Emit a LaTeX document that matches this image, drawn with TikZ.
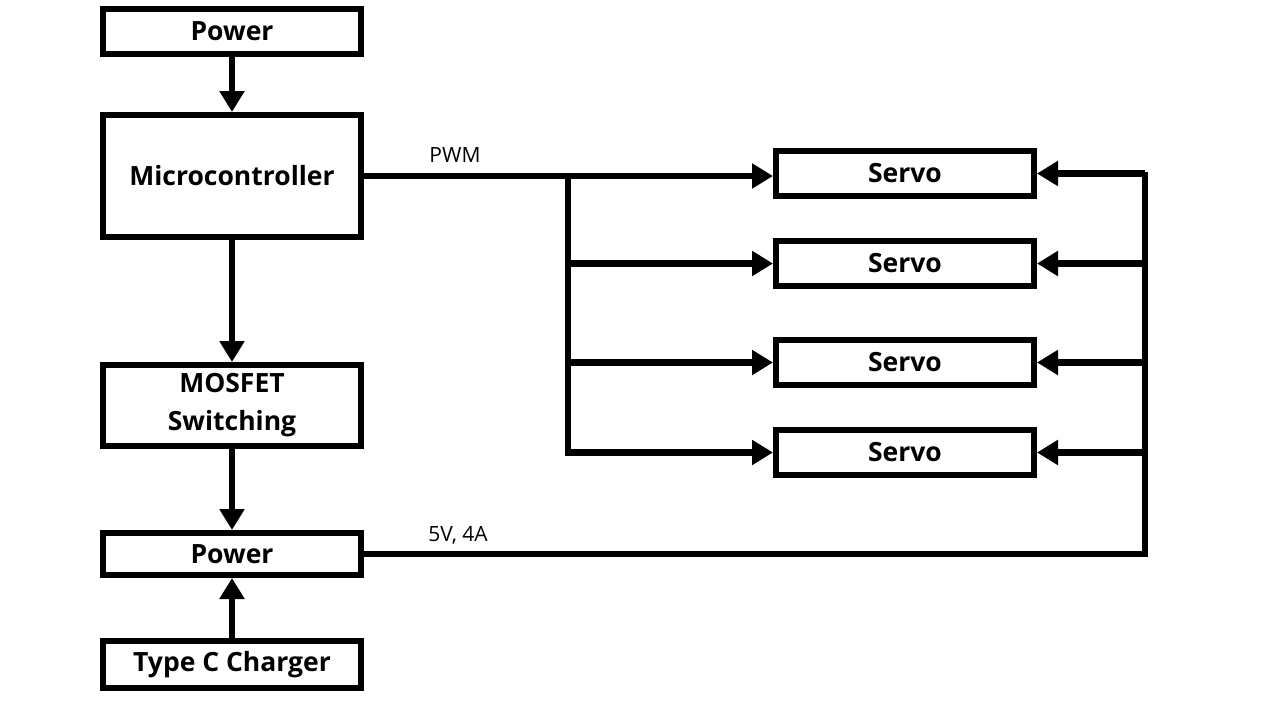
\documentclass[tikz,border=0pt]{standalone}
\usepackage{fontspec}
\setmainfont{Open Sans}
\usetikzlibrary{arrows.meta}

\tikzstyle{block} = [rectangle, draw, line width=6pt, minimum width=258pt, inner sep=0pt, align=center, font=\fontsize{26.5}{38}\selectfont\bfseries]
\tikzstyle{servo} = [block, minimum height=45pt]
\tikzstyle{line} = [draw, line width=6.5pt]
\tikzstyle{arrow} = [line, -{Triangle[length=21pt, width=24pt]}]
\tikzstyle{tag} = [font=\fontsize{21}{24}\selectfont]

\begin{document}
\begin{tikzpicture}[x=1pt, y=-1pt]

    \useasboundingbox (0,0) rectangle (1280,720);

    % LEFT COLUMN
    % * power -> microcontroller -> mosfet -> power <- charger
        \node [block, minimum height=45pt] at (232,31.5)
            (pwrtop) {Power};
        \node [block, minimum height=122pt] at (232,176)
            (mcu) {Microcontroller};
        \node [block, minimum height=81pt] at (232,405.5)
            (mosfet) {MOSFET\\Switching};
        \node [block, minimum height=42pt] at (232,554)
            (pwrbot) {Power};
        \node [block, minimum height=47pt] at (232,664.5)
            (charger) {Type C Charger};

    % RIGHT COLUMN
    % * four servos
        \node [servo] at (905,173.5) (servo1) {Servo};
        \node [servo] at (905,263.5) (servo2) {Servo};
        \node [servo] at (905,362.5) (servo3) {Servo};
        \node [servo] at (905,452.5) (servo4) {Servo};

    % BUS POINTS
        \coordinate (pwmbus) at (568,176);
        \coordinate (vbus) at (1145,172);

    % LINES left column
        \path[arrow] (pwrtop) -- (mcu);
        \path[arrow] (mcu) -- (mosfet);
        \path[arrow] (mosfet) -- (pwrbot);
        \path[arrow] (charger) -- (pwrbot);

    % LINES PWM -> servos
        \path[arrow] (mcu.east |- pwmbus) -- (servo1.west |- pwmbus);
        \path[arrow] (pwmbus) |- (servo4.west);
        \path[arrow] (pwmbus |- servo2.west) -- (servo2.west);
        \path[arrow] (pwmbus |- servo3.west) -- (servo3.west);
        \node [tag] at (455,155) (pwmtag) {PWM};

    % LINES power -> servos
        \path[line] (pwrbot.east) -| (vbus);
        \path[arrow] (vbus |- servo1.east) -- (servo1.east);
        \path[arrow] (vbus |- servo2.east) -- (servo2.east);
        \path[arrow] (vbus |- servo3.east) -- (servo3.east);
        \path[arrow] (vbus |- servo4.east) -- (servo4.east);
        \node [tag] at (458,535) (vtag) {5V, 4A};

\end{tikzpicture}
\end{document}
